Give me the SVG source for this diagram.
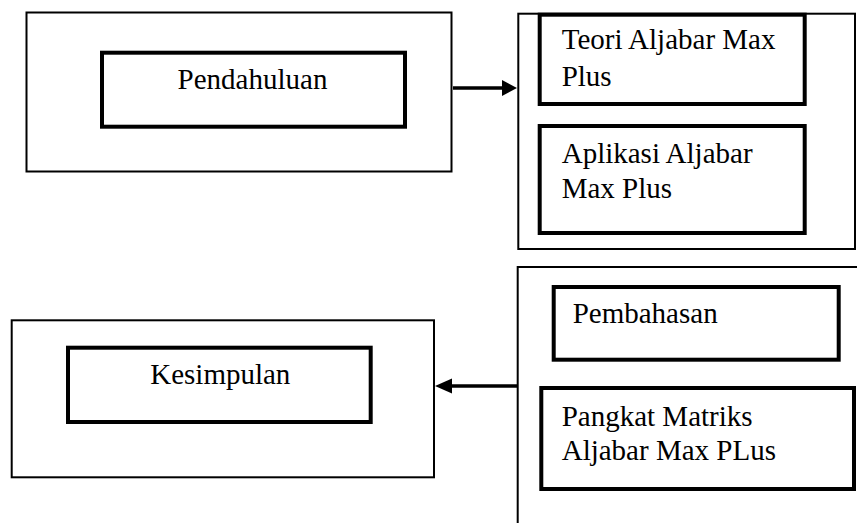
<svg xmlns="http://www.w3.org/2000/svg" width="857" height="523" viewBox="0 0 857 523">
<style>
.outer{fill:none;stroke:#000;stroke-width:2}
.inner{fill:#fff;stroke:#000;stroke-width:4}
.t{font-family:"Liberation Serif","Times New Roman",serif;font-size:29px;fill:#000}
.c{text-anchor:middle}
.conn{stroke:#000;stroke-width:3.5;fill:none}
</style>
<rect width="857" height="523" fill="#fff"/>
<g id="pendahuluan">
<rect class="outer" x="26.5" y="12.5" width="425" height="159"/>
<rect class="inner" x="102" y="52.7" width="303" height="74"/>
<text class="t c" x="252.5" y="89">Pendahuluan</text>
</g>
<g id="teori-group">
<rect class="outer" x="518.3" y="13.7" width="336.7" height="235.3"/>
</g>
<g id="teori">
<rect class="inner" x="539.7" y="14.7" width="265" height="89.3"/>
<text class="t" x="561.7" y="49.3">Teori Aljabar Max</text>
<text class="t" x="561.7" y="86">Plus</text>
</g>
<g id="aplikasi">
<rect class="inner" x="539.7" y="126" width="265" height="107"/>
<text class="t" x="561.7" y="163.3">Aplikasi Aljabar</text>
<text class="t" x="561.7" y="198.3">Max Plus</text>
</g>
<g id="pembahasan-group">
<path class="outer" d="M517.7,523 V267 H857"/>
</g>
<g id="pembahasan">
<rect class="inner" x="553.7" y="287" width="285" height="72.7"/>
<text class="t" x="572.7" y="322.7">Pembahasan</text>
</g>
<g id="pangkat">
<rect class="inner" x="541.3" y="388" width="312.7" height="101"/>
<text class="t" x="561.7" y="426">Pangkat Matriks</text>
<text class="t" x="561.7" y="460">Aljabar Max PLus</text>
</g>
<g id="kesimpulan">
<rect class="outer" x="11.7" y="320.3" width="422.3" height="157"/>
<rect class="inner" x="68" y="347.7" width="302.7" height="74.3"/>
<text class="t c" x="220.3" y="384">Kesimpulan</text>
</g>
<g id="connectors">
<line class="conn" x1="453" y1="88" x2="503" y2="88"/>
<polygon points="517,88 502,80 502,96" fill="#000"/>
<line class="conn" x1="517" y1="386" x2="450" y2="386"/>
<polygon points="435,386 452,378.5 452,393.5" fill="#000"/>
</g>
</svg>
